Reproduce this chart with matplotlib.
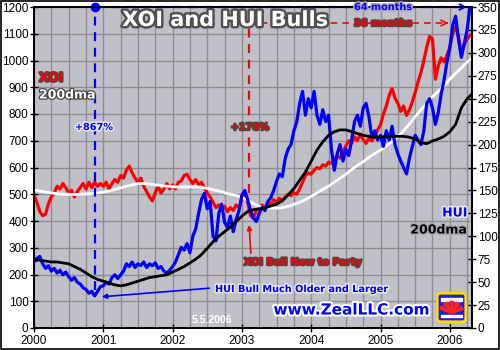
import numpy as np
import matplotlib
matplotlib.use("Agg")
import matplotlib.pyplot as plt
import matplotlib.patheffects as pe
from matplotlib.patches import FancyBboxPatch, Wedge, Rectangle

# ---------------- data ----------------
# XOI index, semi-monthly samples starting Jan 2000
xoi = [497, 470, 435, 420, 425, 465, 490, 505, 530, 520, 540, 525,
       505, 515, 490, 510, 525, 540, 520, 545, 525, 545, 530, 540,
       530, 545, 520, 540, 555, 545, 570, 560, 590, 605, 580, 560,
       545, 560, 530, 510, 490, 475, 505, 530, 505, 520, 540, 520,
       535, 520, 545, 550, 570, 575, 555, 540, 555, 535, 545, 525,
       505, 490, 470, 450, 460, 440, 455, 435, 450, 440, 460, 450,
       480, 500, 470, 420, 410, 440, 445, 460, 450, 470, 460, 480,
       470, 485, 475, 490, 500, 495, 505, 500, 520, 545, 570, 580,
       575, 590, 600, 595, 610, 605, 620, 615, 630, 645, 635, 660,
       680, 700, 690, 715, 700, 725, 705, 690, 710, 700, 720, 740,
       760, 800, 830, 870, 895, 860, 840, 810, 830, 795, 815, 845,
       880, 920, 955, 1000, 1050, 1090, 1080, 930, 980, 1010, 995, 1020,
       1050, 1100, 1125, 1090, 1030, 1060, 1080, 1095]

# HUI index, semi-monthly samples starting Jan 2000
hui = [72, 76, 78, 70, 65, 68, 62, 65, 60, 63, 58, 61,
       56, 52, 55, 50, 48, 44, 42, 38, 40, 35, 40, 45,
       46, 50, 48, 55, 58, 54, 58, 62, 70, 67, 72, 66,
       70, 68, 72, 66, 70, 68, 71, 65, 67, 62, 60, 63,
       67, 72, 80, 88, 85, 92, 82, 100, 108, 125, 140, 147,
       130, 138, 100, 95, 125, 135, 115, 110, 122, 105, 118, 128,
       145, 150, 140, 128, 120, 116, 125, 132, 128, 138, 142, 150,
       160, 168, 165, 185, 195, 200, 215, 225, 245, 258, 232, 250,
       240, 258, 232, 222, 238, 225, 232, 195, 172, 190, 200, 182,
       195, 188, 205, 225, 232, 220, 240, 245, 230, 208, 215, 205,
       210, 198, 215, 205, 220, 200, 190, 182, 175, 168, 185, 198,
       210, 205, 200, 215, 245, 250, 240, 222, 235, 255, 270, 290,
       305, 330, 340, 315, 295, 310, 325, 350]

# 200-day moving averages, monthly samples starting Jan 2000
xoi_dma = [516, 512, 508, 505, 502, 500, 500, 499, 500, 501, 503, 505,
           508, 512, 518, 524, 530, 535, 540, 540, 538, 535, 533, 530,
           528, 527, 527, 528, 528, 526, 522, 517, 512, 506, 500, 495,
           488, 478, 465, 455, 450, 448, 448, 450, 455, 462, 470, 480,
           492, 505, 518, 530, 545, 560, 575, 592, 608, 622, 638, 652,
           665, 680, 697, 715, 738, 762, 790, 815, 840, 865, 885, 905,
           930, 952, 972, 995, 1010]
hui_dma = [74, 74, 73, 72, 72, 71, 70, 67, 64, 60, 56, 53,
           51, 49, 47, 46, 47, 49, 51, 53, 55, 56, 57, 58,
           61, 64, 67, 71, 75, 80, 87, 94, 100, 105, 110, 116,
           122, 127, 129, 130, 131, 133, 135, 139, 145, 152, 161, 170,
           182, 194, 203, 210, 214, 216, 216, 214, 212, 210, 209, 208,
           208, 209, 209, 209, 209, 208, 206, 202, 201, 204, 206, 209,
           214, 222, 240, 250, 256]

year_ticks = [2000, 2001, 2002, 2003, 2004, 2005, 2006]
left_ticks = list(range(0, 1201, 100))
right_ticks = list(range(0, 351, 25))

hui_bull_start = 2000.88      # HUI low
xoi_bull_start = 2003.10      # XOI low
data_end = 2006.27

t_semi = 2000 + np.arange(len(xoi)) / 24.0
t_month = 2000 + np.arange(len(xoi_dma)) / 12.0

# ---------------- figure ----------------
W, H = 500, 350
fig = plt.figure(figsize=(5, 3.5), dpi=100)
fig.patch.set_facecolor("white")


def P(x, y):
    return x / W, 1 - y / H


ax = fig.add_axes([34 / W, 22 / H, 438 / W, 321 / H])
ax.set_facecolor("#C0C0C8")
ax.set_xlim(2000, 2006.32)
ax.set_ylim(0, 1200)
ax.set_xticks(year_ticks)
ax.set_xticks(np.arange(2000, 2006.33, 0.25), minor=True)
ax.set_yticks(left_ticks)
ax.grid(which="both", axis="x", color="#8E8E92", lw=1.0, zorder=0)
ax.grid(which="major", axis="y", color="#8E8E92", lw=1.0, zorder=0)
ax.set_axisbelow(True)
ax.tick_params(axis="x", which="minor", length=0)
ax.tick_params(axis="x", which="major", direction="inout", length=6,
               width=1, labelsize=8.5, pad=2)
ax.tick_params(axis="y", direction="inout", length=6, width=1,
               labelsize=8.5, pad=1)
for lab in ax.get_xticklabels() + ax.get_yticklabels():
    lab.set_fontfamily("Liberation Sans")
for s in ax.spines.values():
    s.set_linewidth(1.3)

ax.plot(t_semi, xoi, color="#FF0000", lw=2.3, zorder=3)
ax.plot(t_month, xoi_dma, color="white", lw=2.0, zorder=4)

ax2 = ax.twinx()
ax2.set_ylim(0, 350)
ax2.set_yticks(right_ticks)
ax2.tick_params(axis="y", direction="inout", length=6, width=1,
                labelsize=8.5, pad=1)
for lab in ax2.get_yticklabels():
    lab.set_fontfamily("Liberation Sans")
for s in ax2.spines.values():
    s.set_linewidth(1.3)
ax2.plot(t_semi, hui, color="#0000FF", lw=2.3, zorder=3)
ax2.plot(t_month, hui_dma, color="black", lw=2.0, zorder=4)

# ---------------- annotations ----------------
blue = "#0000FF"
red = "#FF0000"
ax.plot([hui_bull_start, hui_bull_start], [142, 1200], color=blue, lw=1.6,
        ls=(0, (4, 3)), zorder=5, clip_on=False)
ax.plot([hui_bull_start, data_end - 0.05], [1200, 1200], color=blue, lw=1.6,
        ls=(0, (4, 3)), zorder=5, clip_on=False)
ax.plot([hui_bull_start], [1200], "o", color=blue, ms=6, zorder=6, clip_on=False)
ax.annotate("", xy=(data_end + 0.02, 1200), xytext=(data_end - 0.1, 1200),
            arrowprops=dict(arrowstyle="->", color=blue, lw=1.4),
            annotation_clip=False, zorder=6)

ax.plot([xoi_bull_start, xoi_bull_start], [505, 1140], color=red, lw=1.6,
        ls=(0, (4, 3)), zorder=5)
ax.plot([xoi_bull_start, 2005.95], [1140, 1140], color=red, lw=1.2,
        ls=(0, (4, 3)), zorder=5)
ax.annotate("", xy=(2006.02, 1140), xytext=(2005.9, 1140),
            arrowprops=dict(arrowstyle="->", color=red, lw=1.2), zorder=6)

halo_gray = [pe.withStroke(linewidth=2.2, foreground="#A8A8B0")]
halo_dark = [pe.withStroke(linewidth=1.8, foreground="#484848")]
halo_white = [pe.withStroke(linewidth=2.2, foreground="#E8E8F0")]

fig.text(*P(225, 20), "XOI and HUI Bulls", ha="center", va="center",
         fontsize=15, fontweight="bold", color="white", family="DejaVu Sans",
         path_effects=[pe.withStroke(linewidth=3.5, foreground="#505050")],
         zorder=10)
fig.text(*P(383, 7), "64 months", ha="center", va="center", fontsize=7,
         fontweight="bold", color=blue, path_effects=halo_gray, zorder=10)
fig.text(*P(383, 23), "36 months", ha="center", va="center", fontsize=7,
         fontweight="bold", color=red, path_effects=halo_dark, zorder=10)
fig.text(*P(94, 127), "+867%", ha="center", va="center", fontsize=7,
         fontweight="bold", color=blue, path_effects=halo_white, zorder=10)
fig.text(*P(250, 127), "+178%", ha="center", va="center", fontsize=7,
         fontweight="bold", color=red, path_effects=halo_dark, zorder=10)
fig.text(*P(39, 78), "XOI", ha="left", va="center", fontsize=9,
         fontweight="bold", color=red, path_effects=halo_dark, zorder=10)
fig.text(*P(39, 95), "200dma", ha="left", va="center", fontsize=9,
         fontweight="bold", color="white", path_effects=halo_dark, zorder=10)
fig.text(*P(467, 213), "HUI", ha="right", va="center", fontsize=9,
         fontweight="bold", color=blue, path_effects=halo_white, zorder=10)
fig.text(*P(467, 230), "200dma", ha="right", va="center", fontsize=9,
         fontweight="bold", color="black", path_effects=halo_gray, zorder=10)
fig.text(*P(303, 262), "XOI Bull New to Party", ha="center", va="center",
         fontsize=7, fontweight="bold", color=red, path_effects=halo_dark,
         zorder=10)
fig.text(*P(302, 289), "HUI Bull Much Older and Larger", ha="center",
         va="center", fontsize=7, fontweight="bold", color=blue,
         path_effects=halo_white, zorder=10)
fig.text(*P(351, 310), "www.ZealLLC.com", ha="center", va="center",
         fontsize=11, fontweight="bold", color=blue,
         path_effects=[pe.withStroke(linewidth=3, foreground="white")], zorder=10)
fig.text(*P(212, 320), "5.5.2006", ha="center", va="center", fontsize=7.5,
         fontweight="bold", color="white", family="Liberation Sans", zorder=10)

# arrows to the lows
fig.add_artist(matplotlib.patches.FancyArrowPatch(
    P(251, 256), P(249, 222), transform=fig.transFigure,
    arrowstyle="-|>", mutation_scale=7, color=red, lw=1.2, zorder=9))
fig.add_artist(matplotlib.patches.FancyArrowPatch(
    P(212, 288), P(99, 297), transform=fig.transFigure,
    arrowstyle="-|>", mutation_scale=7, color=blue, lw=1.2, zorder=9))

# logo
lax = fig.add_axes([436 / W, 1 - 323 / H, 31 / W, 31 / H])
lax.set_xlim(0, 1)
lax.set_ylim(0, 1)
lax.axis("off")
lax.add_patch(FancyBboxPatch((0.06, 0.06), 0.88, 0.88,
                             boxstyle="round,pad=0.02,rounding_size=0.1",
                             fc="#2020D0", ec="#FFD800", lw=2))
lax.add_patch(Rectangle((0.15, 0.72), 0.7, 0.08, color="white"))
lax.add_patch(Rectangle((0.15, 0.18), 0.7, 0.08, color="white"))
for a0 in range(20, 170, 30):
    lax.add_patch(Wedge((0.5, 0.3), 0.4, a0, a0 + 18, color="#FF2020"))

fig.add_artist(Rectangle((0.001, 0.0015), 0.997, 0.996,
                         transform=fig.transFigure, fill=False,
                         edgecolor="black", lw=1.2))

fig.savefig("out.png", dpi=100)
